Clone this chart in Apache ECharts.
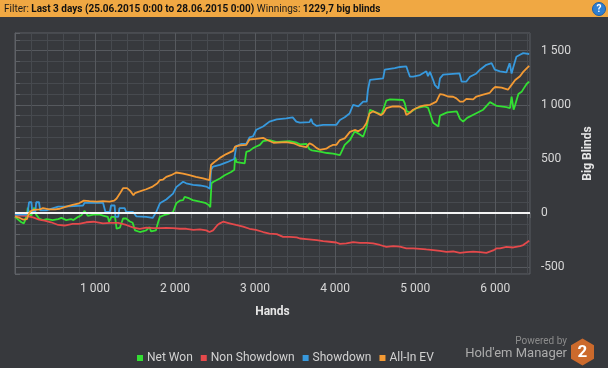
<!DOCTYPE html>
<html><head><meta charset="utf-8">
<script src="https://cdn.jsdelivr.net/npm/echarts@6/dist/echarts.min.js"></script>
<style>html,body{margin:0;padding:0;background:#36393d;}#c{width:608px;height:368px;}</style>
</head><body><div id="c"></div>
<script>
// ---- data (hands, big blinds) ----
const seriesNames = ['Net Won', 'Non Showdown', 'Showdown', 'All-In EV'];

const netWonHands = [0,40,80,110,130,150,160,180,200,220,240,260,280,300,350,400,470,540,580,640,700,730,790,830,870,910,980,1060,1110,1160,1175,1205,1250,1270,1310,1350,1390,1430,1470,1500,1560,1640,1680,1700,1760,1790,1810,1860,1910,1975,2015,2060,2100,2120,2180,2220,2310,2375,2420,2440,2455,2480,2560,2620,2700,2740,2750,2770,2870,2890,2930,2975,3015,3060,3100,3180,3270,3330,3430,3520,3560,3640,3680,3710,3810,3900,3975,4060,4080,4120,4185,4245,4300,4350,4395,4435,4480,4580,4640,4685,4850,4870,4895,4935,5020,5120,5160,5185,5225,5290,5310,5330,5400,5520,5560,5600,5650,5770,5850,5935,6020,6140,6185,6205,6230,6250,6290,6330,6355,6395,6425];
const netWonValues = [-35,-60,-85,-95,-60,-10,50,-5,-30,-45,50,-10,-30,-50,-65,-55,-65,-55,-45,-65,-55,-65,-35,-20,20,-25,-15,-15,-25,-35,-80,-35,-35,-145,-135,-50,-50,-75,-90,-160,-175,-160,-130,-170,-160,-80,-35,-20,-10,10,90,115,120,150,135,120,105,95,75,55,275,290,320,350,380,400,515,470,460,565,575,600,615,630,665,675,655,660,665,650,635,640,590,580,568,555,550,535,521,630,675,755,730,705,800,955,940,910,1040,1050,1045,1015,940,930,970,985,975,925,835,800,900,910,930,940,870,845,880,925,955,1025,990,980,970,1075,955,1000,1100,1120,1150,1195,1215];

const nonShowdownHands = [0,140,225,300,370,450,540,620,720,800,890,980,1100,1190,1290,1390,1480,1560,1640,1730,1810,1890,1975,2060,2140,2230,2310,2390,2430,2475,2530,2560,2600,2680,2760,2850,2930,3010,3100,3180,3270,3350,3430,3520,3560,3640,3770,3850,3930,4015,4060,4140,4225,4310,4395,4475,4560,4640,4725,4810,4890,4975,5060,5140,5225,5310,5390,5475,5560,5640,5725,5810,5890,5975,6015,6060,6140,6225,6310,6350,6390,6425];
const nonShowdownValues = [-20,-25,-40,-60,-70,-85,-110,-115,-100,-100,-85,-80,-95,-90,-90,-110,-135,-145,-135,-140,-140,-138,-140,-145,-145,-155,-150,-160,-175,-160,-110,-95,-80,-95,-110,-125,-145,-155,-175,-190,-195,-220,-220,-225,-235,-240,-250,-260,-265,-272,-285,-280,-268,-275,-275,-280,-295,-312,-305,-310,-327,-327,-330,-336,-342,-349,-358,-355,-367,-360,-356,-360,-367,-345,-327,-327,-312,-318,-305,-296,-275,-256];

const showdownHands = [0,140,160,175,205,215,255,265,300,315,390,430,540,620,850,870,1100,1130,1185,1200,1245,1255,1290,1305,1370,1390,1475,1515,1640,1720,1765,1810,1890,1975,2015,2100,2140,2225,2310,2390,2435,2450,2475,2560,2650,2740,2765,2830,2890,2930,2975,3015,3100,3180,3270,3390,3470,3515,3560,3680,3700,3720,3770,3850,4015,4060,4120,4180,4225,4290,4350,4395,4410,4435,4600,4620,4745,4810,4890,4910,4935,4975,5060,5140,5160,5185,5225,5245,5290,5310,5350,5555,5580,5640,5685,5765,5810,5890,5955,5995,6060,6140,6180,6205,6225,6265,6310,6350,6425];
const showdownValues = [-15,-15,10,100,100,15,15,100,100,25,25,35,60,60,70,95,95,10,10,70,70,-35,-35,45,45,10,10,-30,-35,-45,10,90,125,180,240,290,275,260,255,245,225,400,430,445,470,500,620,640,640,700,710,770,800,845,865,875,885,845,835,840,870,830,805,815,815,860,885,920,1000,985,1030,1030,1140,1230,1245,1325,1340,1350,1355,1310,1260,1260,1275,1310,1265,1305,1230,1185,1150,1245,1280,1290,1215,1215,1260,1290,1325,1370,1385,1325,1310,1300,1385,1290,1345,1445,1463,1478,1470];

const allInEvHands = [0,60,100,150,165,190,230,310,350,430,500,560,640,720,800,860,930,1020,1100,1180,1240,1270,1310,1350,1400,1440,1480,1500,1540,1640,1720,1780,1810,1850,1890,1950,2015,2100,2180,2260,2350,2430,2450,2480,2560,2640,2725,2750,2810,2890,2930,3010,3100,3140,3230,3390,3480,3560,3640,3680,3720,3770,3810,3890,3930,3975,4015,4060,4120,4185,4245,4290,4350,4390,4430,4475,4520,4570,4600,4640,4720,4810,4870,4890,4930,4975,5060,5120,5185,5265,5310,5350,5410,5475,5515,5560,5600,5640,5725,5765,5850,5930,5975,6000,6080,6160,6200,6250,6310,6350,6390,6425];
const allInEvValues = [-30,-45,-60,-55,-20,15,30,35,45,35,35,40,60,75,90,115,110,105,110,105,115,135,180,230,230,205,165,185,195,220,245,275,305,310,335,350,375,365,350,335,320,305,445,465,510,545,575,615,625,630,680,685,695,680,650,655,645,620,610,645,630,600,585,595,615,630,630,675,690,750,768,755,785,830,920,940,925,905,920,970,985,985,955,907,925,955,985,995,1000,1030,1100,1095,1077,1075,1060,1030,1030,1055,1050,1077,1095,1110,1150,1165,1160,1140,1180,1230,1265,1305,1335,1360];

const seriesColors = ['#33df33', '#e5494b', '#3799dd', '#f39a34'];
const xTickLabels = ['1 000', '2 000', '3 000', '4 000', '5 000', '6 000'];

function zip(h, v) { return h.map((x, i) => [x, v[i]]); }
const seriesData = [
  zip(netWonHands, netWonValues),
  zip(nonShowdownHands, nonShowdownValues),
  zip(showdownHands, showdownValues),
  zip(allInEvHands, allInEvValues)
];
function fmtNum(v) {
  const s = String(Math.abs(Math.round(v))).replace(/\B(?=(\d{3})+(?!\d))/g, ' ');
  return (v < 0 ? '-' : '') + s;
}

const FONT = 'Roboto';
const minorC = '#474a4f', majorC = '#56595e', borderC = '#5e6166';

const chart = echarts.init(document.getElementById('c'), null, {renderer: 'canvas'});
const option = {
  backgroundColor: '#37393d',
  animation: false,
  textStyle: {fontFamily: FONT},
  grid: {left: 15, right: 78, top: 33, bottom: 94, show: true, borderColor: borderC, borderWidth: 1, containLabel: false},
  legend: {
    data: seriesNames, left: 132, top: 347, icon: 'rect', itemWidth: 6, itemHeight: 6, itemGap: 8,
    textStyle: {color: '#d2d2d2', fontSize: 12, fontFamily: FONT, padding: [0,0,0,-1]}
  },
  xAxis: {
    type: 'value', min: 0, max: 6435, interval: 200,
    name: 'Hands', nameLocation: 'middle', nameGap: 32,
    nameTextStyle: {color: '#e6e6e6', fontWeight: 'bold', fontSize: 12, fontFamily: FONT},
    axisLine: {show: true, lineStyle: {color: borderC}},
    axisTick: {show: true, length: 5, lineStyle: {color: borderC}},
    axisLabel: {color: '#d8d8d8', fontSize: 12, margin: 9, fontFamily: FONT,
      formatter: v => (v > 0 && v % 1000 === 0) ? xTickLabels[v / 1000 - 1] : ''},
    splitLine: {show: true, lineStyle: {color: [majorC, minorC, minorC, minorC, minorC], width: 1}}
  },
  yAxis: {
    type: 'value', position: 'right', min: -563, max: 1664, splitNumber: 22,
    name: 'Big Blinds', nameLocation: 'middle', nameGap: 41, nameRotate: 90,
    nameTextStyle: {color: '#e6e6e6', fontWeight: 'bold', fontSize: 12, fontFamily: FONT},
    axisLine: {show: true, lineStyle: {color: borderC}},
    axisTick: {show: true, length: 5, lineStyle: {color: borderC}},
    axisLabel: {color: '#d8d8d8', fontSize: 12, margin: 11, fontFamily: FONT,
      formatter: v => (Math.abs(v % 500) < 1e-6) ? fmtNum(v) : ''},
    splitLine: {show: true, lineStyle: {color: [minorC, majorC, minorC, minorC, minorC], width: 1}}
  },
  series: seriesNames.map((n, i) => ({
    name: n, type: 'line', data: seriesData[i], showSymbol: false, symbol: 'none',
    lineStyle: {width: 1.8, color: seriesColors[i]}, itemStyle: {color: seriesColors[i]},
    z: 2 + i,
    markLine: i === 3 ? {silent: true, symbol: 'none', label: {show: false},
      lineStyle: {color: '#f4f4f4', width: 2, type: 'solid'}, data: [{yAxis: 0}]} : undefined
  })),
  graphic: [
    {type: 'rect', left: 0, top: 0, shape: {x: 0, y: 0, width: 608, height: 17}, style: {fill: '#f0a843'}},
    {type: 'text', x: 4, y: 9, scaleX: 0.91, style: {
      text: '{n|Filter: }{b|Last 3 days (25.06.2015 0:00 to 28.06.2015 0:00)}{n| Winnings: }{b|1229,7 big blinds}',
      verticalAlign: 'middle', fill: '#111',
      rich: {n: {fontSize: 11, fontFamily: FONT, fill: '#1a1a1a'}, b: {fontSize: 11, fontFamily: FONT, fontWeight: 'bold', fill: '#111'}}
    }},
    {type: 'circle', shape: {cx: 599, cy: 9, r: 6.5}, style: {fill: '#2f7fd0', stroke: '#1d5fa8', lineWidth: 1}},
    {type: 'text', x: 599, y: 9.5, style: {text: '?', fill: '#fff', fontSize: 10, fontWeight: 'bold', fontFamily: FONT, align: 'center', verticalAlign: 'middle'}},
    {type: 'text', x: 567, y: 341.5, style: {text: 'Powered by', fill: '#8c8c8c', fontSize: 10, fontFamily: FONT, align: 'right', verticalAlign: 'middle'}},
    {type: 'text', x: 567, y: 354, style: {text: "Hold'em Manager", fill: '#acacac', fontSize: 13, fontFamily: FONT, align: 'right', verticalAlign: 'middle'}},
    {type: 'polygon', shape: {points: [[582.5,338.5],[594,345.2],[594,358.8],[582.5,365.5],[571,358.8],[571,345.2]]}, style: {fill: '#cc6a2c'}},
    {type: 'text', x: 582.5, y: 352.5, style: {text: '2', fill: '#fff', fontSize: 17, fontWeight: 'bold', fontFamily: FONT, align: 'center', verticalAlign: 'middle'}}
  ]
};
chart.setOption(option);
</script></body></html>
